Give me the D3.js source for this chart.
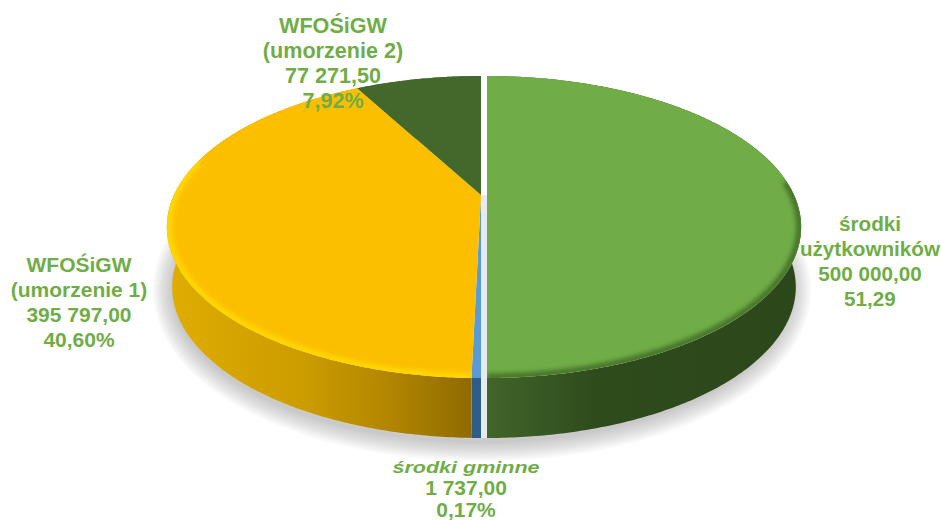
<!DOCTYPE html>
<html>
<head>
<meta charset="utf-8">
<script src="https://cdn.jsdelivr.net/npm/d3@7"></script>
<style>
html,body{margin:0;padding:0;background:#fff;}
svg{display:block;}
text{font-family:"Liberation Sans",Arial,sans-serif;font-weight:bold;fill:#70ad47;text-anchor:middle;}
</style>
</head>
<body>
<div id="container"></div>
<script>
let svgWidth = 941;
let svgHeight = 520;

// values printed on the chart
let sliceNames = [["środki","użytkowników"],["środki gminne"],["WFOŚiGW","(umorzenie 1)"],["WFOŚiGW","(umorzenie 2)"]];
let sliceValues = ["500 000,00","1 737,00","395 797,00","77 271,50"];
let slicePercents = ["51,29","0,17%","40,60%","7,92%"];
// shares as the slices are really drawn in the picture (not the same as printed)
let drawnShares = [50, 0.39, 41.69, 7.92];

let topColors = ["#70ad47","#5b9bd5","#fcbf00","#43682b"];
let rimColors = ["#3f6a27","#5b9bd5","#ffdc00","#43682b"];
let sideStops = [
    [[0,"#41652a"],[0.35,"#2e4b1c"],[1,"#2c481b"]],
    [[0,"#2f5d88"],[1,"#2f5d88"]],
    [[0,"#e0ad00"],[0.45,"#cc9c00"],[0.75,"#b08400"],[1,"#8f6a00"]],
    [[0,"#43682b"],[1,"#43682b"]]
];
let sideRange = [[487,800],[471,481],[166,471],[356,481]];
let sliceShift = [6,0,0,0];

let labelX = [870,466,79,333];
let labelY = [231,473,272,33];
let labelStep = [25,22,25,25];
let labelSize = [20.7,21,21,21.6];

// disc seen in perspective: far side squeezed, centre sits above the ellipse middle
let cx = 481, cy = 195;
let k = 0.212, A = 307, B = 144.2;
let depth = 60, bottomScale = 0.983;

let uScale = d3.scaleLinear().domain([-1,1]).range([-A,A]);
let vScale = d3.scaleLinear().domain([-1,1]).range([-B,B]);

function project(angle, r, dx){
    let u = r*Math.sin(angle), v = -r*Math.cos(angle);
    let w = 1 - k*v;
    return [cx + dx + uScale(u)/w, cy + vScale(v)/w];
}
function projectBottom(angle, r, dx){
    let p = project(angle, r, dx);
    return [cx + dx + (p[0]-cx-dx)*bottomScale, p[1] + depth];
}
function arcAngles(a0, a1){
    let n = Math.max(2, Math.ceil((a1-a0)/0.01));
    return d3.range(n+1).map(i => a0 + (a1-a0)*i/n);
}

let line = d3.line();
let pie = d3.pie().sort(null).value(d => d);
let arcs = pie(drawnShares);

// only the front of the disc gets a rim and a shadow
let frontFrom = Math.PI*0.47, frontTo = Math.PI*1.58;

let svg = d3.select("#container").append("svg")
    .attr("width", svgWidth)
    .attr("height", svgHeight);
let defs = svg.append("defs");

defs.append("filter")
    .attr("id","blurRim")
    .attr("x","-20%").attr("y","-20%").attr("width","140%").attr("height","140%")
    .append("feGaussianBlur").attr("stdDeviation",2.4);

sideStops.forEach((stops,i) => {
    let g = defs.append("linearGradient")
        .attr("id","side"+i)
        .attr("gradientUnits","userSpaceOnUse")
        .attr("x1",sideRange[i][0]).attr("x2",sideRange[i][1])
        .attr("y1",0).attr("y2",0);
    stops.forEach(s => g.append("stop").attr("offset",s[0]).attr("stop-color",s[1]));
});

// soft shadow under the front of the pie, stacked strokes fade out by themselves
let shadowPath = line(arcAngles(frontFrom, frontTo).map(a => {
    let p = projectBottom(a, 1, 1);
    return [p[0], p[1]+3];
}));
d3.range(1,13).forEach(i => {
    svg.append("path")
        .attr("d",shadowPath)
        .attr("fill","none")
        .attr("stroke","#707070")
        .attr("stroke-width",i*3.4)
        .attr("stroke-linecap","round")
        .attr("opacity",0.035);
});

// gap between the green slice and the rest
svg.append("rect")
    .attr("x",cx).attr("y",cy)
    .attr("width",sliceShift[0])
    .attr("height",B/(1-k)+depth)
    .attr("fill","#e6ebf2");

// side walls
let walls = svg.append("g");
arcs.forEach((d,i) => {
    let angles = arcAngles(d.startAngle, d.endAngle);
    let dx = sliceShift[i];
    let pts = angles.map(a => project(a,1,dx))
        .concat(angles.slice().reverse().map(a => projectBottom(a,1,dx)));
    walls.append("path")
        .attr("d", line(pts)+"Z")
        .attr("fill","url(#side"+i+")");
});

// top faces with the bevelled rim
let faces = svg.append("g");
arcs.forEach((d,i) => {
    let angles = arcAngles(d.startAngle, d.endAngle);
    let dx = sliceShift[i];
    let pts = [[cx+dx,cy]].concat(angles.map(a => project(a,1,dx)));
    let facePath = line(pts)+"Z";

    defs.append("clipPath").attr("id","face"+i)
        .append("path").attr("d",facePath);

    faces.append("path")
        .attr("d",facePath)
        .attr("fill",topColors[i]);

    let a0 = Math.max(d.startAngle, frontFrom), a1 = Math.min(d.endAngle, frontTo);
    if(a1 > a0 && i != 1){
        faces.append("g").attr("clip-path","url(#face"+i+")")
            .append("path")
            .attr("d", line(arcAngles(a0,a1).map(a => project(a,0.995,dx))))
            .attr("fill","none")
            .attr("stroke",rimColors[i])
            .attr("stroke-width",6)
            .attr("filter","url(#blurRim)");
    }
});

// labels on top
let labels = svg.append("g");
sliceNames.forEach((names,i) => {
    let rows = names.concat([sliceValues[i], slicePercents[i]]);
    rows.forEach((row,j) => {
        let t = labels.append("text")
            .attr("x",labelX[i])
            .attr("y",labelY[i]+j*labelStep[i])
            .attr("font-size",labelSize[i])
            .text(row);
        if(i==1 && j==0){
            t.attr("font-style","italic")
             .attr("font-size",17)
             .attr("textLength",147)
             .attr("lengthAdjust","spacingAndGlyphs");
        }
    });
});
</script>
</body>
</html>
